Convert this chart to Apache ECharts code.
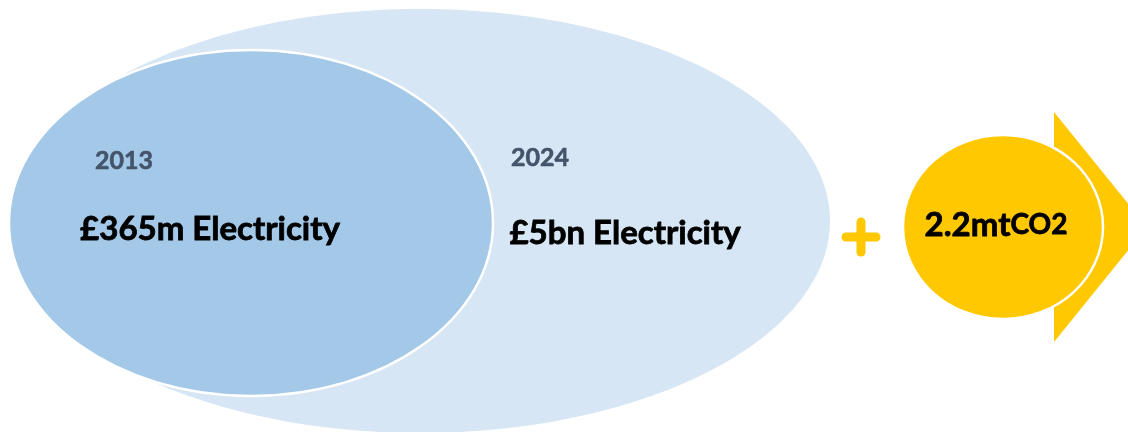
<!DOCTYPE html>
<html>
<head>
<meta charset="utf-8">
<script src="https://cdn.jsdelivr.net/npm/echarts@6/dist/echarts.min.js"></script>
<style>
  html, body { margin: 0; padding: 0; background: #ffffff; }
  #chart { width: 1128px; height: 432px; }
</style>
</head>
<body>
<div id="chart"></div>
<script>
// Electricity spend, then and now, plus the carbon saved
const years = ['2013', '2024'];
const spend = ['£365m', '£5bn'];
const spendKind = 'Electricity';
const carbonValue = '2.2';
const carbonUnit = 'mt';
const carbonGas = 'CO2';

// Layout in canvas units: ellipse centre and radii, label anchors
const ellipseLayout = [
  { cx: 251, cy: 223, rx: 242, ry: 173, yearAt: [124, 161], spendAt: [210, 229] },
  { cx: 420, cy: 221, rx: 410, ry: 212, yearAt: [540, 158], spendAt: [625, 233] }
];
const badgeLayout = { cx: 1003, cy: 227, rx: 100, ry: 92, arrowX: 1054, arrowTop: 112, arrowBottom: 342, arrowTip: 1147 };
const plusLayout = { cx: 861, cy: 237, half: 15, width: 9 };

const FONT = 'Lato, "Open Sans", sans-serif';
const LIGHT = '#d6e6f4';
const MID = '#a3c8e8';
const GOLD = '#ffc800';
const SLATE = '#44546a';

// Draw the larger (2024) ellipse first, then the 2013 one over it
const drawOrder = [1, 0];

const chart = echarts.init(document.getElementById('chart'), null, { renderer: 'canvas' });

function ellipseItem(params, api) {
  const i = drawOrder[params.dataIndex];
  const L = ellipseLayout[i];
  const c = api.coord([L.cx, L.cy]);
  const s = api.size([L.rx, L.ry]);
  return {
    type: 'ellipse',
    shape: { cx: c[0], cy: c[1], rx: s[0], ry: s[1] },
    style: i === 0
      ? { fill: MID, stroke: '#ffffff', lineWidth: 2.5 }
      : { fill: LIGHT }
  };
}

function labelItem(params, api) {
  const i = params.dataIndex;
  const L = ellipseLayout[i];
  const y = api.coord(L.yearAt);
  const v = api.coord(L.spendAt);
  return {
    type: 'group',
    children: [
      {
        type: 'text',
        style: {
          text: years[i], x: y[0], y: y[1], align: 'center', verticalAlign: 'middle',
          fill: SLATE, fontFamily: FONT, fontWeight: 'bold', fontSize: 25,
          stroke: SLATE, lineWidth: 0.6
        }
      },
      {
        type: 'text',
        style: {
          text: spend[i] + ' ' + spendKind, x: v[0], y: v[1], align: 'center', verticalAlign: 'middle',
          fill: '#000000', fontFamily: FONT, fontWeight: 'bold', fontSize: 33,
          stroke: '#000000', lineWidth: 0.8
        }
      }
    ]
  };
}

function badgeItem(params, api) {
  const B = badgeLayout;
  const P = plusLayout;
  const c = api.coord([B.cx, B.cy]);
  const s = api.size([B.rx, B.ry]);
  const a1 = api.coord([B.arrowX, B.arrowTop]);
  const a2 = api.coord([B.arrowX, B.arrowBottom]);
  const a3 = api.coord([B.arrowTip, B.cy]);
  const ph1 = api.coord([P.cx - P.half, P.cy]);
  const ph2 = api.coord([P.cx + P.half, P.cy]);
  const pv1 = api.coord([P.cx, P.cy - P.half]);
  const pv2 = api.coord([P.cx, P.cy + P.half]);
  return {
    type: 'group',
    children: [
      { type: 'line', shape: { x1: ph1[0], y1: ph1[1], x2: ph2[0], y2: ph2[1] },
        style: { stroke: GOLD, lineWidth: P.width, lineCap: 'round' } },
      { type: 'line', shape: { x1: pv1[0], y1: pv1[1], x2: pv2[0], y2: pv2[1] },
        style: { stroke: GOLD, lineWidth: P.width, lineCap: 'round' } },
      { type: 'polygon', shape: { points: [a1, a3, a2] }, style: { fill: GOLD } },
      { type: 'ellipse', shape: { cx: c[0], cy: c[1], rx: s[0], ry: s[1] },
        style: { fill: GOLD, stroke: '#ffffff', lineWidth: 2.5 } },
      {
        type: 'text',
        style: {
          text: '{v|' + carbonValue + carbonUnit + '}{g|' + carbonGas + '}',
          x: c[0] - 7, y: c[1] - 2, align: 'center', verticalAlign: 'middle',
          rich: {
            v: { fill: '#000000', fontFamily: FONT, fontWeight: 'bold', fontSize: 33, stroke: '#000000', lineWidth: 0.8 },
            g: { fill: '#000000', fontFamily: FONT, fontWeight: 'bold', fontSize: 28, stroke: '#000000', lineWidth: 0.8 }
          }
        }
      }
    ]
  };
}

chart.setOption({
  animation: false,
  backgroundColor: '#ffffff',
  grid: { left: 0, right: 0, top: 0, bottom: 0 },
  xAxis: { type: 'value', min: 0, max: 1128, show: false },
  yAxis: { type: 'value', min: 0, max: 432, inverse: true, show: false },
  series: [
    { type: 'custom', renderItem: ellipseItem, data: drawOrder.map(i => [ellipseLayout[i].cx, ellipseLayout[i].cy]), silent: true },
    { type: 'custom', renderItem: labelItem, data: years.map((y, i) => [ellipseLayout[i].cx, ellipseLayout[i].cy]), silent: true },
    { type: 'custom', renderItem: badgeItem, data: [[badgeLayout.cx, badgeLayout.cy]], silent: true }
  ]
});
</script>
</body>
</html>
